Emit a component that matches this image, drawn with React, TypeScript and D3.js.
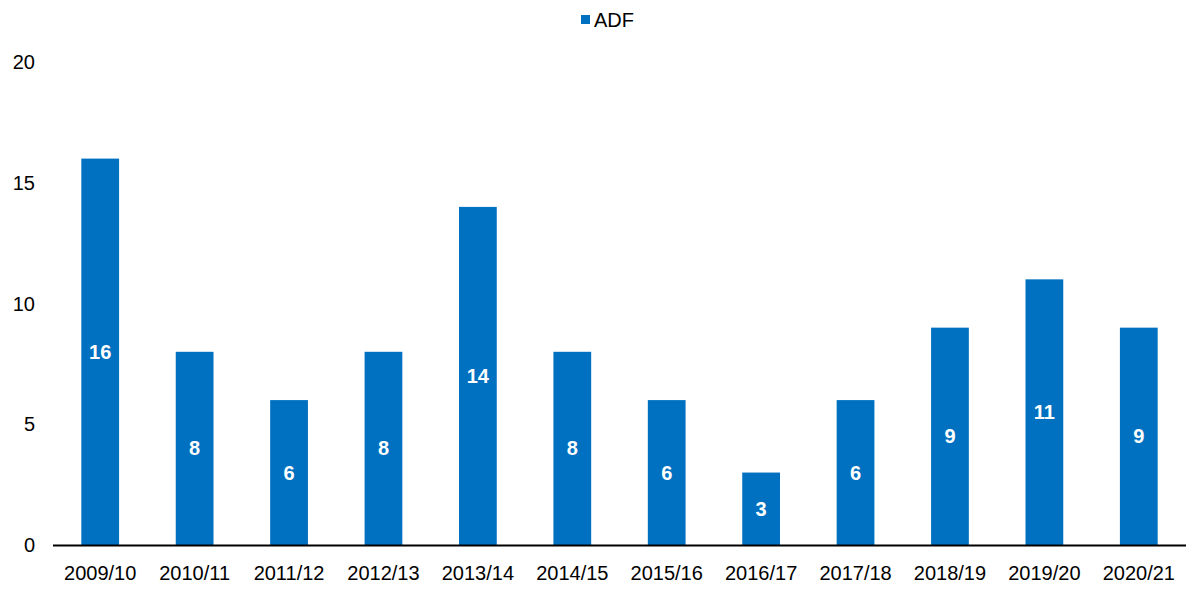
import * as d3 from "d3";
import { useEffect, useRef } from "react";

const years = ["2009/10", "2010/11", "2011/12", "2012/13", "2013/14", "2014/15", "2015/16", "2016/17", "2017/18", "2018/19", "2019/20", "2020/21"];
const adf = [16, 8, 6, 8, 14, 8, 6, 3, 6, 9, 11, 9];
const yTicks = [0, 5, 10, 15, 20];

const W = 1200, H = 594;

const App = () => {
  const ref = useRef<SVGSVGElement>(null);

  useEffect(() => {
    const margin = { top: 62, right: 14, bottom: 49, left: 53 };
    const width = W - margin.left - margin.right,
      height = H - margin.top - margin.bottom;
    const font = "'Liberation Sans', Arial, sans-serif";

    const root = d3.select(ref.current);
    root.selectAll("*").remove();
    const svg = root.append("g").attr("transform", `translate(${margin.left},${margin.top})`);

    const x = d3.scaleBand().domain(years).range([0, width]).paddingInner(0.6).paddingOuter(0.3);
    const y = d3.scaleLinear().domain([0, 20]).range([height, 0]);

    // y labels (no axis line)
    svg.selectAll(".ytick")
      .data(yTicks)
      .join("text")
      .attr("x", -18)
      .attr("y", (d) => y(d))
      .attr("dy", "0.35em")
      .attr("text-anchor", "end")
      .attr("font-family", font)
      .attr("font-size", 20)
      .attr("fill", "#000")
      .text((d) => d);

    // bars
    svg.selectAll(".bar")
      .data(adf)
      .join("rect")
      .attr("x", (d, i) => x(years[i])!)
      .attr("y", (d) => y(d))
      .attr("width", x.bandwidth())
      .attr("height", (d) => height - y(d))
      .attr("fill", "#0070C0");

    // value labels
    svg.selectAll(".val")
      .data(adf)
      .join("text")
      .attr("x", (d, i) => x(years[i])! + x.bandwidth() / 2)
      .attr("y", (d) => (y(d) + height) / 2)
      .attr("dy", "0.35em")
      .attr("text-anchor", "middle")
      .attr("font-family", font)
      .attr("font-size", 20)
      .attr("font-weight", "bold")
      .attr("fill", "#fff")
      .text((d) => d);

    // x axis
    svg.append("line")
      .attr("x1", 0)
      .attr("x2", width)
      .attr("y1", height + 0.5)
      .attr("y2", height + 0.5)
      .attr("stroke", "#000")
      .attr("stroke-width", 2);

    svg.selectAll(".xlab")
      .data(years)
      .join("text")
      .attr("x", (d) => x(d)! + x.bandwidth() / 2)
      .attr("y", height + 28)
      .attr("dy", "0.35em")
      .attr("text-anchor", "middle")
      .attr("font-family", font)
      .attr("font-size", 20)
      .attr("fill", "#000")
      .text((d) => d);

    // legend
    const lg = root.append("g").attr("transform", "translate(581,15)");
    lg.append("rect").attr("width", 9).attr("height", 9).attr("y", 0).attr("fill", "#0070C0");
    lg.append("text")
      .attr("x", 13)
      .attr("y", 5)
      .attr("dy", "0.35em")
      .attr("font-family", font)
      .attr("font-size", 20)
      .attr("fill", "#000")
      .text("ADF");
  }, []);

  return <svg width={W} height={H} ref={ref} style={{ position: "absolute", left: 0, top: 0 }} />;
};

export default App;
